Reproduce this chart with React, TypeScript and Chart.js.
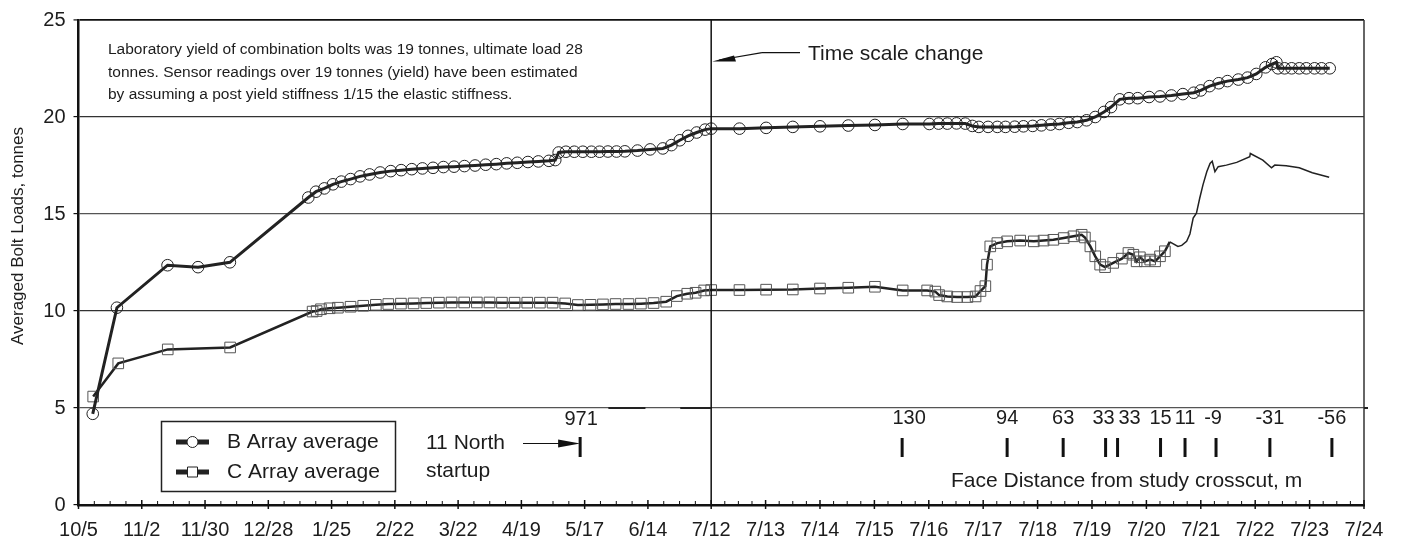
import React, { useEffect, useRef } from "react";
import { Chart, registerables } from "chart.js";

Chart.register(...registerables);

// ---------- data ----------
const xTickLabels = ["10/5", "11/2", "11/30", "12/28", "1/25", "2/22", "3/22", "4/19", "5/17", "6/14", "7/12",
  "7/13", "7/14", "7/15", "7/16", "7/17", "7/18", "7/19", "7/20", "7/21", "7/22", "7/23", "7/24"];
const yTickValues = [0, 5, 10, 15, 20, 25];

// early period: days after 10/5 (coarse time scale)
const bEarlyDays = [6.3, 17.0, 39.4, 52.9, 67.0, 101.7, 105.1, 108.8, 112.6, 116.3, 120.4, 124.6, 128.8, 133.5, 138.2,
  142.8, 147.5, 152.2, 156.9, 161.5, 166.2, 170.8, 175.5, 180.2, 184.9, 189.5, 194.2, 198.9, 203.5, 208.2, 211.0, 212.5,
  215.7, 219.4, 223.2, 227.0, 230.6, 234.3, 238.1, 241.8, 247.4, 253.0, 258.6, 262.4, 266.1, 269.8, 273.6, 277.3];
const bEarlyLoads = [4.70, 10.17, 12.36, 12.26, 12.51, 15.85, 16.15, 16.32, 16.53, 16.67, 16.80, 16.94, 17.04, 17.14, 17.21,
  17.26, 17.31, 17.35, 17.38, 17.42, 17.44, 17.47, 17.50, 17.54, 17.57, 17.61, 17.64, 17.68, 17.71, 17.74, 17.78, 18.17,
  18.21, 18.21, 18.21, 18.21, 18.21, 18.22, 18.22, 18.23, 18.27, 18.33, 18.38, 18.55, 18.80, 19.03, 19.20, 19.35];

const cEarlyDays = [6.5, 17.6, 39.5, 67.1, 103.6, 105.4, 107.3, 111.1, 114.8, 120.4, 126.0, 131.6, 137.1, 142.7, 148.3,
  153.9, 159.5, 165.1, 170.7, 176.3, 181.9, 187.4, 193.0, 198.6, 204.2, 209.8, 215.4, 221.0, 226.6, 232.1, 237.7, 243.4,
  248.9, 254.5, 260.1, 264.8, 269.4, 273.1, 276.9];
const cEarlyLoads = [5.59, 7.30, 8.02, 8.12, 9.97, 10.00, 10.09, 10.14, 10.17, 10.22, 10.27, 10.32, 10.36, 10.38, 10.39,
  10.41, 10.43, 10.44, 10.44, 10.44, 10.44, 10.43, 10.43, 10.43, 10.43, 10.43, 10.39, 10.31, 10.32, 10.34, 10.36, 10.36,
  10.38, 10.41, 10.48, 10.77, 10.89, 10.94, 11.06];

// late period: days after 7/12 (fine time scale)
const bLateDays = [0, 0.52, 1.01, 1.50, 2.00, 2.52, 3.01, 3.52, 4.01, 4.18, 4.34, 4.51, 4.67, 4.80, 4.92, 5.09, 5.26,
  5.41, 5.58, 5.74, 5.91, 6.07, 6.24, 6.40, 6.57, 6.73, 6.90, 7.06, 7.22, 7.35, 7.51, 7.68, 7.84, 8.05, 8.25, 8.46, 8.67,
  8.87, 9.00, 9.16, 9.33, 9.49, 9.69, 9.86, 10.02, 10.19, 10.31, 10.39, 10.42, 10.54, 10.67, 10.81, 10.94, 11.09, 11.22, 11.37];
const bLateLoads = [19.40, 19.40, 19.44, 19.49, 19.52, 19.56, 19.59, 19.64, 19.64, 19.66, 19.66, 19.67, 19.66, 19.54,
  19.49, 19.49, 19.49, 19.49, 19.50, 19.52, 19.54, 19.57, 19.61, 19.64, 19.70, 19.74, 19.83, 20.00, 20.26, 20.51, 20.91,
  20.97, 20.97, 21.03, 21.06, 21.11, 21.18, 21.25, 21.37, 21.59, 21.74, 21.85, 21.93, 22.03, 22.22, 22.56, 22.73, 22.82,
  22.51, 22.51, 22.51, 22.51, 22.51, 22.51, 22.51, 22.51];

const cLateDays = [0, 0.52, 1.01, 1.50, 2.00, 2.52, 3.01, 3.52, 3.97, 4.12, 4.19, 4.34, 4.52, 4.71, 4.86, 4.95, 5.04,
  5.07, 5.13, 5.26, 5.44, 5.68, 5.93, 6.11, 6.29, 6.48, 6.66, 6.81, 6.87, 6.97, 7.06, 7.15, 7.24, 7.39, 7.55, 7.67, 7.76,
  7.82, 7.88, 7.97, 8.07, 8.16, 8.25, 8.34, 8.43, 8.58, 8.65, 8.74, 8.80, 8.86, 8.92, 8.98, 9.04, 9.11, 9.17, 9.21, 9.26,
  9.32, 9.47, 9.66, 9.90, 9.91, 10.14, 10.30, 10.36, 10.57, 10.81, 11.05, 11.36];
const cLateLoads = [11.08, 11.08, 11.10, 11.11, 11.16, 11.20, 11.25, 11.06, 11.06, 11.00, 10.82, 10.75, 10.72, 10.72,
  10.75, 11.03, 11.28, 12.39, 13.33, 13.50, 13.59, 13.63, 13.59, 13.63, 13.67, 13.76, 13.85, 13.93, 13.79, 13.33, 12.82,
  12.39, 12.26, 12.48, 12.70, 12.99, 12.90, 12.56, 12.77, 12.56, 12.65, 12.56, 12.82, 13.08, 13.56, 13.33, 13.38, 13.59,
  13.97, 14.79, 15.04, 15.81, 16.50, 17.18, 17.61, 17.72, 17.18, 17.44, 17.52, 17.66, 17.95, 18.12, 17.78, 17.38, 17.52,
  17.49, 17.38, 17.13, 16.89];
const cMarkerEndDay = 8.36; // C markers stop after this late-period day

// face distance from study crosscut (m), at late-period days
const faceDays = [3.51, 5.44, 6.47, 7.25, 7.47, 8.26, 8.71, 9.28, 10.27, 11.41];
const faceDistances = ["130", "94", "63", "33", "33", "15", "11", "-9", "-31", "-56"];
const startupDay = 222; // early-period day of 11 North startup
const startupDistance = "971";

const seriesNames = ["B Array average", "C Array average"];
const noteLines = [
  "Laboratory yield of combination bolts was 19 tonnes, ultimate load 28",
  "tonnes. Sensor readings over 19 tonnes (yield) have been estimated",
  "by assuming a post yield stiffness 1/15 the elastic stiffness.",
];

// ---------- axis mapping (two time scales) ----------
const EARLY_SPAN_DAYS = 280;
const EARLY_UNITS = 11.63;
const LATE_DAYS = 12;
const xEarly = (d: number) => (d / EARLY_SPAN_DAYS) * EARLY_UNITS;
const xLate = (d: number) => EARLY_UNITS + d;
const majorTickValues = [
  ...Array.from({ length: 11 }, (_, i) => xEarly(i * 28)),
  ...Array.from({ length: LATE_DAYS }, (_, j) => xLate(j + 1)),
];

const FONT = '"Liberation Sans", Arial, Helvetica, sans-serif';
const INK = "#1c1c1c";

const toPts = (days: number[], vals: number[], f: (d: number) => number) =>
  days.map((d, i) => ({ x: f(d), y: vals[i] }));

const overlayPlugin = {
  id: "overlay",
  afterDraw(chart: any) {
    const ctx = chart.ctx as CanvasRenderingContext2D;
    const { right, top, bottom } = chart.chartArea;
    const xs = chart.scales.x;
    const ys = chart.scales.y;
    const line = (x1: number, y1: number, x2: number, y2: number, w: number, c: string) => {
      ctx.beginPath();
      ctx.lineWidth = w;
      ctx.strokeStyle = c;
      ctx.moveTo(x1, y1);
      ctx.lineTo(x2, y2);
      ctx.stroke();
    };
    ctx.save();
    // right frame
    line(right, top, right, bottom, 1.5, "#333");
    // time scale change line
    const xc = xs.getPixelForValue(EARLY_UNITS);
    line(xc, top, xc, bottom, 1.5, "#111");
    // x ticks: weekly minor on early part, 6-hourly minor on late part
    for (let d = 0; d <= EARLY_SPAN_DAYS; d += 7) {
      const px = xs.getPixelForValue(xEarly(d));
      if (d % 28 === 0) line(px, bottom - 5, px, bottom + 4, 1.5, "#111");
      else line(px, bottom - 4, px, bottom, 1, "#111");
    }
    for (let q = 1; q <= LATE_DAYS * 4; q++) {
      const px = xs.getPixelForValue(xLate(q / 4));
      if (q % 4 === 0) line(px, bottom - 5, px, bottom + 4, 1.5, "#111");
      else line(px, bottom - 4, px, bottom, 1, "#111");
    }
    // dark pieces on the 5 line
    const y5 = ys.getPixelForValue(5);
    line(xs.getPixelForValue(xEarly(234.5)), y5, xs.getPixelForValue(xEarly(250.9)), y5, 2, "#222");
    line(xs.getPixelForValue(xEarly(266.3)), y5, xc, y5, 2, "#222");
    line(right, y5, right + 4, y5, 2, "#222");

    ctx.fillStyle = INK;
    ctx.textBaseline = "middle";
    // y title
    ctx.save();
    ctx.translate(18, 236);
    ctx.rotate(-Math.PI / 2);
    ctx.textAlign = "center";
    ctx.font = `17px ${FONT}`;
    ctx.fillText("Averaged Bolt Loads, tonnes", 0, 0);
    ctx.restore();

    // note
    ctx.textAlign = "left";
    ctx.font = `15.5px ${FONT}`;
    noteLines.forEach((t, i) => ctx.fillText(t, 108, 50 + i * 22.5));

    // time scale change
    ctx.font = `21px ${FONT}`;
    ctx.fillText("Time scale change", 808, 54);
    line(800, 52.7, 762, 52.7, 1.2, "#111");
    line(762, 52.7, xc + 8, 60, 1.2, "#111");
    ctx.beginPath();
    ctx.moveTo(xc + 1, 61.5);
    ctx.lineTo(734, 55.5);
    ctx.lineTo(736, 61.5);
    ctx.closePath();
    ctx.fillStyle = "#111";
    ctx.fill();
    ctx.fillStyle = INK;

    // legend
    ctx.lineWidth = 1.5;
    ctx.strokeStyle = "#222";
    ctx.strokeRect(161.5, 421.5, 234, 70);
    const legY = [442, 472];
    legY.forEach((ly, i) => {
      line(176, ly, 209, ly, 5, "#222");
      ctx.beginPath();
      ctx.lineWidth = 1;
      ctx.strokeStyle = "#222";
      ctx.fillStyle = "#fff";
      if (i === 0) ctx.arc(192.5, ly, 5.5, 0, Math.PI * 2);
      else ctx.rect(187.5, ly - 5, 10, 10);
      ctx.fill();
      ctx.stroke();
      ctx.fillStyle = INK;
      ctx.font = `21px ${FONT}`;
      ctx.textAlign = "left";
      ctx.fillText(seriesNames[i], 227, ly);
    });

    // 11 North startup
    const xs971 = xs.getPixelForValue(xEarly(startupDay));
    ctx.font = `21px ${FONT}`;
    ctx.textAlign = "left";
    ctx.fillText("11 North", 426, 443);
    ctx.fillText("startup", 426, 471);
    line(523, 443.5, xs971 - 10, 443.5, 1.2, "#111");
    ctx.beginPath();
    ctx.moveTo(xs971, 443.5);
    ctx.lineTo(xs971 - 22, 439.5);
    ctx.lineTo(xs971 - 22, 447.5);
    ctx.closePath();
    ctx.fillStyle = "#111";
    ctx.fill();
    line(xs971, 437, xs971, 457, 3, "#111");
    ctx.fillStyle = INK;
    ctx.textAlign = "center";
    ctx.font = `20px ${FONT}`;
    ctx.fillText(startupDistance, xs971 + 1, 419);

    // face distances
    const nudges = [7, 0, 0, -2, 12, 0, 0, -3, 0, 0];
    faceDays.forEach((d, i) => {
      const px = xs.getPixelForValue(xLate(d));
      line(px, 438, px, 457, 3, "#111");
      ctx.fillStyle = INK;
      ctx.textAlign = "center";
      ctx.fillText(faceDistances[i], px + nudges[i], 418);
    });
    ctx.textAlign = "left";
    ctx.font = `21px ${FONT}`;
    ctx.fillText("Face Distance from study crosscut, m", 951, 481);
    ctx.restore();
  },
};

export default function App() {
  const ref = useRef<HTMLCanvasElement | null>(null);
  useEffect(() => {
    if (!ref.current) return;
    const cutoffX = xLate(cMarkerEndDay);
    const bData = [...toPts(bEarlyDays, bEarlyLoads, xEarly), ...toPts(bLateDays, bLateLoads, xLate)];
    const cData = [...toPts(cEarlyDays, cEarlyLoads, xEarly), ...toPts(cLateDays, cLateLoads, xLate)];
    const chart = new Chart(ref.current, {
      type: "line",
      data: {
        datasets: [
          {
            label: seriesNames[0],
            data: bData,
            borderColor: "#222",
            borderWidth: 3,
            pointStyle: "circle",
            pointRadius: 5.8,
            pointBorderWidth: 1,
            pointBorderColor: "#222",
            pointBackgroundColor: "rgba(0,0,0,0)",
            tension: 0,
          },
          {
            label: seriesNames[1],
            data: cData,
            borderColor: "#222",
            borderWidth: 2.5,
            pointStyle: "rect",
            pointRadius: (c: any) => (c.raw && c.raw.x > cutoffX + 1e-6 ? 0 : 7.5),
            pointBorderWidth: 1,
            pointBorderColor: "#555",
            pointBackgroundColor: "rgba(0,0,0,0)",
            tension: 0,
            segment: {
              borderWidth: (c: any) => (c.p0.parsed.x >= cutoffX ? 1.5 : 2.5),
            },
          } as any,
        ],
      },
      options: {
        responsive: false,
        devicePixelRatio: 1,
        animation: false,
        layout: { padding: { left: 0, right: 40, top: 17.3, bottom: 0 } },
        plugins: { legend: { display: false }, tooltip: { enabled: false } },
        scales: {
          x: {
            type: "linear",
            min: 0,
            max: EARLY_UNITS + LATE_DAYS,
            afterBuildTicks: (axis: any) => {
              axis.ticks = majorTickValues.map((v) => ({ value: v }));
            },
            afterFit: (axis: any) => {
              axis.height = 36;
            },
            grid: { display: true, drawOnChartArea: false, drawTicks: false },
            border: { display: true, color: "#111", width: 2.5 },
            ticks: {
              autoSkip: false,
              maxRotation: 0,
              padding: 13,
              color: INK,
              font: { family: FONT, size: 20 },
              callback: (_v: any, i: number) => xTickLabels[i],
            },
          },
          y: {
            min: 0,
            max: 25,
            afterBuildTicks: (axis: any) => {
              axis.ticks = yTickValues.map((v) => ({ value: v }));
            },
            afterFit: (axis: any) => {
              axis.width = 78.5;
            },
            grid: {
              color: (c: any) => (c.tick && c.tick.value === 25 ? "#111" : c.tick && c.tick.value % 10 === 0 ? "#333" : "#555"),
              lineWidth: (c: any) => (c.tick && c.tick.value === 25 ? 1.8 : 1.2),
              tickColor: "#111",
              tickLength: 5,
              tickWidth: 1.2,
            },
            border: { display: true, color: "#111", width: 2.5 },
            ticks: {
              padding: 8,
              color: INK,
              font: { family: FONT, size: 20 },
            },
          },
        },
      },
      plugins: [overlayPlugin],
    });
    return () => chart.destroy();
  }, []);
  return (
    <div style={{ position: "absolute", left: 0, top: 0, width: 1404, height: 541, background: "#fff" }}>
      <canvas ref={ref} width={1404} height={541} style={{ display: "block" }} />
    </div>
  );
}
